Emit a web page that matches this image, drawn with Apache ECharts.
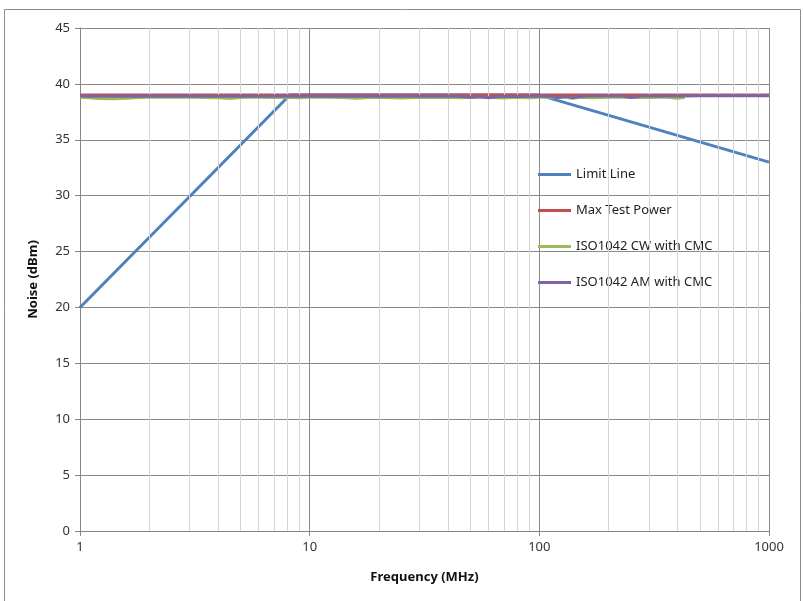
<!DOCTYPE html>
<html>
<head>
<meta charset="utf-8">
<script src="https://cdn.jsdelivr.net/npm/echarts@6/dist/echarts.min.js"></script>
<style>
  html, body { margin: 0; padding: 0; background: #fff; }
  #chart { width: 803px; height: 601px; }
</style>
</head>
<body>
<div id="chart"></div>
<script>
// limit line corners (MHz, dBm)
var limitFreq = [1, 8.2, 100, 1000]
var limitValue = [20, 39, 39, 33]

var maxPowerFreq = [1, 1000]
var maxPowerValue = [39, 39]

// measured noise sweeps
var sweepFreq = [1, 1.1, 1.2, 1.4, 1.6, 1.8, 2, 2.5, 3, 3.5, 4, 4.5, 5, 5.5, 6, 7, 8, 9, 10,
  12, 14, 16, 18, 20, 25, 30, 35, 40, 45, 50, 55, 60, 70, 80, 90, 100,
  110, 120, 130, 140, 150, 170, 200, 230, 250, 280, 300, 330, 360, 400, 430,
  500, 600, 700, 800, 900, 1000]
var cwValue = [38.8, 38.75, 38.7, 38.68, 38.72, 38.78, 38.8, 38.8, 38.8, 38.78, 38.76, 38.7, 38.78, 38.8, 38.8, 38.78, 38.8, 38.75, 38.8,
  38.8, 38.78, 38.72, 38.78, 38.8, 38.74, 38.8, 38.78, 38.8, 38.76, 38.8, 38.78, 38.8, 38.74, 38.8, 38.75, 38.8,
  38.8, 38.75, 38.8, 38.72, 38.8, 38.75, 38.8, 38.8, 38.78, 38.8, 38.78, 38.8, 38.8, 38.72, 38.8,
  null, null, null, null, null, null]
var amValue = [38.92, 38.9, 38.9, 38.9, 38.92, 38.9, 38.92, 38.9, 38.92, 38.9, 38.9, 38.9, 38.92, 38.9, 38.9, 38.9, 38.92, 38.9, 38.92,
  38.9, 38.9, 38.92, 38.9, 38.9, 38.92, 38.9, 38.9, 38.92, 38.88, 38.8, 38.9, 38.76, 38.9, 38.88, 38.9, 38.92,
  38.9, 38.78, 38.9, 38.76, 38.88, 38.92, 38.92, 38.92, 38.78, 38.92, 38.92, 38.9, 38.92, 38.92, 38.92,
  38.95, 38.95, 38.95, 38.95, 38.95, 38.95]

var xTicks = [1, 10, 100, 1000]
var minorGrid = [2, 3, 4, 5, 6, 7, 8, 9, 20, 30, 40, 50, 60, 70, 80, 90, 200, 300, 400, 500, 600, 700, 800, 900]

var names = ['Limit Line', 'Max Test Power', 'ISO1042 CW with CMC', 'ISO1042 AM with CMC']
var colors = ['#4F81BD', '#C0504D', '#9BBB59', '#8064A2']

function pairs(xs, ys) {
  return xs.map(function (x, i) { return [x, ys[i]] })
}

var font = 'Noto Sans'
var chart = echarts.init(document.getElementById('chart'))

var lineSeries = [
  pairs(limitFreq, limitValue),
  pairs(maxPowerFreq, maxPowerValue),
  pairs(sweepFreq, cwValue),
  pairs(sweepFreq, amValue)
].map(function (d, i) {
  return {
    name: names[i],
    type: 'line',
    data: d,
    showSymbol: false,
    connectNulls: false,
    lineStyle: { width: 3, color: colors[i] },
    itemStyle: { color: colors[i] },
    z: 3 + i
  }
})

chart.setOption({
  animation: false,
  graphic: [{
    type: 'rect',
    shape: { x: 4.5, y: 9.5, width: 796, height: 600 },
    style: { fill: 'none', stroke: '#8c8c8c', lineWidth: 1 },
    silent: true
  }],
  grid: { left: 80, right: 34, top: 28, bottom: 70 },
  legend: {
    orient: 'vertical',
    left: 538,
    top: 168,
    padding: 0,
    itemGap: 23,
    itemWidth: 33,
    itemHeight: 3,
    icon: 'rect',
    data: names,
    textStyle: { fontFamily: font, fontSize: 13, color: '#222' }
  },
  xAxis: {
    type: 'log',
    logBase: 10,
    min: 1,
    max: 1000,
    name: 'Frequency (MHz)',
    nameLocation: 'middle',
    nameGap: 40,
    nameTextStyle: { fontFamily: font, fontSize: 13, fontWeight: 'bold', color: '#111' },
    axisLine: { lineStyle: { color: '#868686' } },
    axisTick: { show: true, length: 5, lineStyle: { color: '#868686' } },
    axisLabel: {
      fontFamily: font, fontSize: 13, color: '#333', margin: 10,
      customValues: xTicks,
      formatter: function (v) { return String(v) }
    },
    splitLine: { show: true, lineStyle: { color: '#8a8a8a' } }
  },
  yAxis: {
    type: 'value',
    min: 0,
    max: 45,
    interval: 5,
    name: 'Noise (dBm)',
    nameLocation: 'middle',
    nameGap: 40,
    nameTextStyle: { fontFamily: font, fontSize: 13, fontWeight: 'bold', color: '#111' },
    axisLine: { show: true, lineStyle: { color: '#868686' } },
    axisTick: { show: true, length: 5, lineStyle: { color: '#868686' } },
    axisLabel: { fontFamily: font, fontSize: 13, color: '#333', margin: 10 },
    splitLine: { show: true, lineStyle: { color: '#8a8a8a' } }
  },
  series: [{
    name: 'minor grid',
    type: 'line',
    data: [],
    silent: true,
    z: 1,
    markLine: {
      silent: true,
      symbol: 'none',
      label: { show: false },
      lineStyle: { type: 'solid', color: '#d4d4d4', width: 1 },
      data: minorGrid.map(function (v) { return { xAxis: v } })
    }
  }].concat(lineSeries)
})
</script>
</body>
</html>
